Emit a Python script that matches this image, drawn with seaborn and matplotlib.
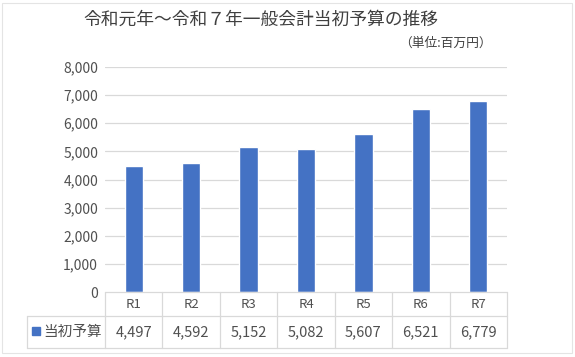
import matplotlib
matplotlib.use("Agg")
import matplotlib.pyplot as plt
import seaborn as sns
import pandas as pd

# data (unit: million yen)
years = ["R1", "R2", "R3", "R4", "R5", "R6", "R7"]
budget = [4497, 4592, 5152, 5082, 5607, 6521, 6779]
series_name = "当初予算"
title = "令和元年～令和７年一般会計当初予算の推移"
unit_label = "（単位:百万円）"
y_ticks = [0, 1000, 2000, 3000, 4000, 5000, 6000, 7000, 8000]

BAR_COLOR = "#4472C4"
TEXT_COLOR = "#505050"
GRID_COLOR = "#D9D9D9"

sns.set_theme(style="white")
plt.rcParams["font.family"] = ["Noto Sans CJK JP", "DejaVu Sans"]

df = pd.DataFrame({"year": years, "budget": budget})

fig = plt.figure(figsize=(5.75, 3.57), dpi=100)
ax = fig.add_axes([105 / 575, 1 - 292 / 357, 402 / 575, 225 / 357])

sns.barplot(data=df, x="year", y="budget", color=BAR_COLOR, width=0.32,
            saturation=1, ax=ax)

ax.set_xlim(-0.5, len(years) - 0.5)
ax.set_ylim(0, 8000)
ax.set_yticks(y_ticks)
ax.set_yticklabels([f"{v:,}" for v in y_ticks], fontsize=10, color=TEXT_COLOR)
ax.tick_params(axis="y", length=0, pad=5)
ax.set_xticks([])
ax.set_xlabel("")
ax.set_ylabel("")
for v in y_ticks[1:]:
    ax.axhline(v, color=GRID_COLOR, lw=0.9, zorder=0)
for side in ["top", "right", "left", "bottom"]:
    ax.spines[side].set_visible(False)

# data table under the plot (x in data units, y in axes units)
trans = ax.get_xaxis_transform()
row1 = -24 / 225
row2 = -56 / 225
left = -0.5 - 78 / 57.4
right = len(years) - 0.5
line_kw = dict(color=GRID_COLOR, lw=0.9, transform=trans, clip_on=False)
ax.plot([-0.5, right], [0, 0], **line_kw)
ax.plot([left, right], [row1, row1], **line_kw)
ax.plot([left, right], [row2, row2], **line_kw)
for i in range(len(years) + 1):
    ax.plot([i - 0.5, i - 0.5], [0, row2], **line_kw)
ax.plot([left, left], [row1, row2], **line_kw)

for i, (yr, val) in enumerate(zip(years, budget)):
    ax.text(i, row1 / 2, yr, ha="center", va="center", fontsize=9.5,
            color=TEXT_COLOR, transform=trans)
    ax.text(i, (row1 + row2) / 2, f"{val:,}", ha="center", va="center",
            fontsize=10.5, color=TEXT_COLOR, transform=trans)

ax.plot([left + 0.15], [(row1 + row2) / 2 + 0.005], marker="s", ms=6,
        color=BAR_COLOR, transform=trans, clip_on=False)
ax.text(left + 0.28, (row1 + row2) / 2, series_name, ha="left", va="center",
        fontsize=10.5, color=TEXT_COLOR, transform=trans)

fig.text(261 / 575, 1 - 20 / 357, title, ha="center", va="center",
         fontsize=12.8, color="#404040")
fig.text(492 / 575, 1 - 43 / 357, unit_label, ha="right", va="center",
         fontsize=9.2, color="#404040")

fig.patches.append(plt.Rectangle((2 / 575, 4 / 357), 570 / 575, 350 / 357,
                                 transform=fig.transFigure, fill=False,
                                 edgecolor="#E4E4E4", lw=0.8))

fig.savefig("out.png", dpi=100)
